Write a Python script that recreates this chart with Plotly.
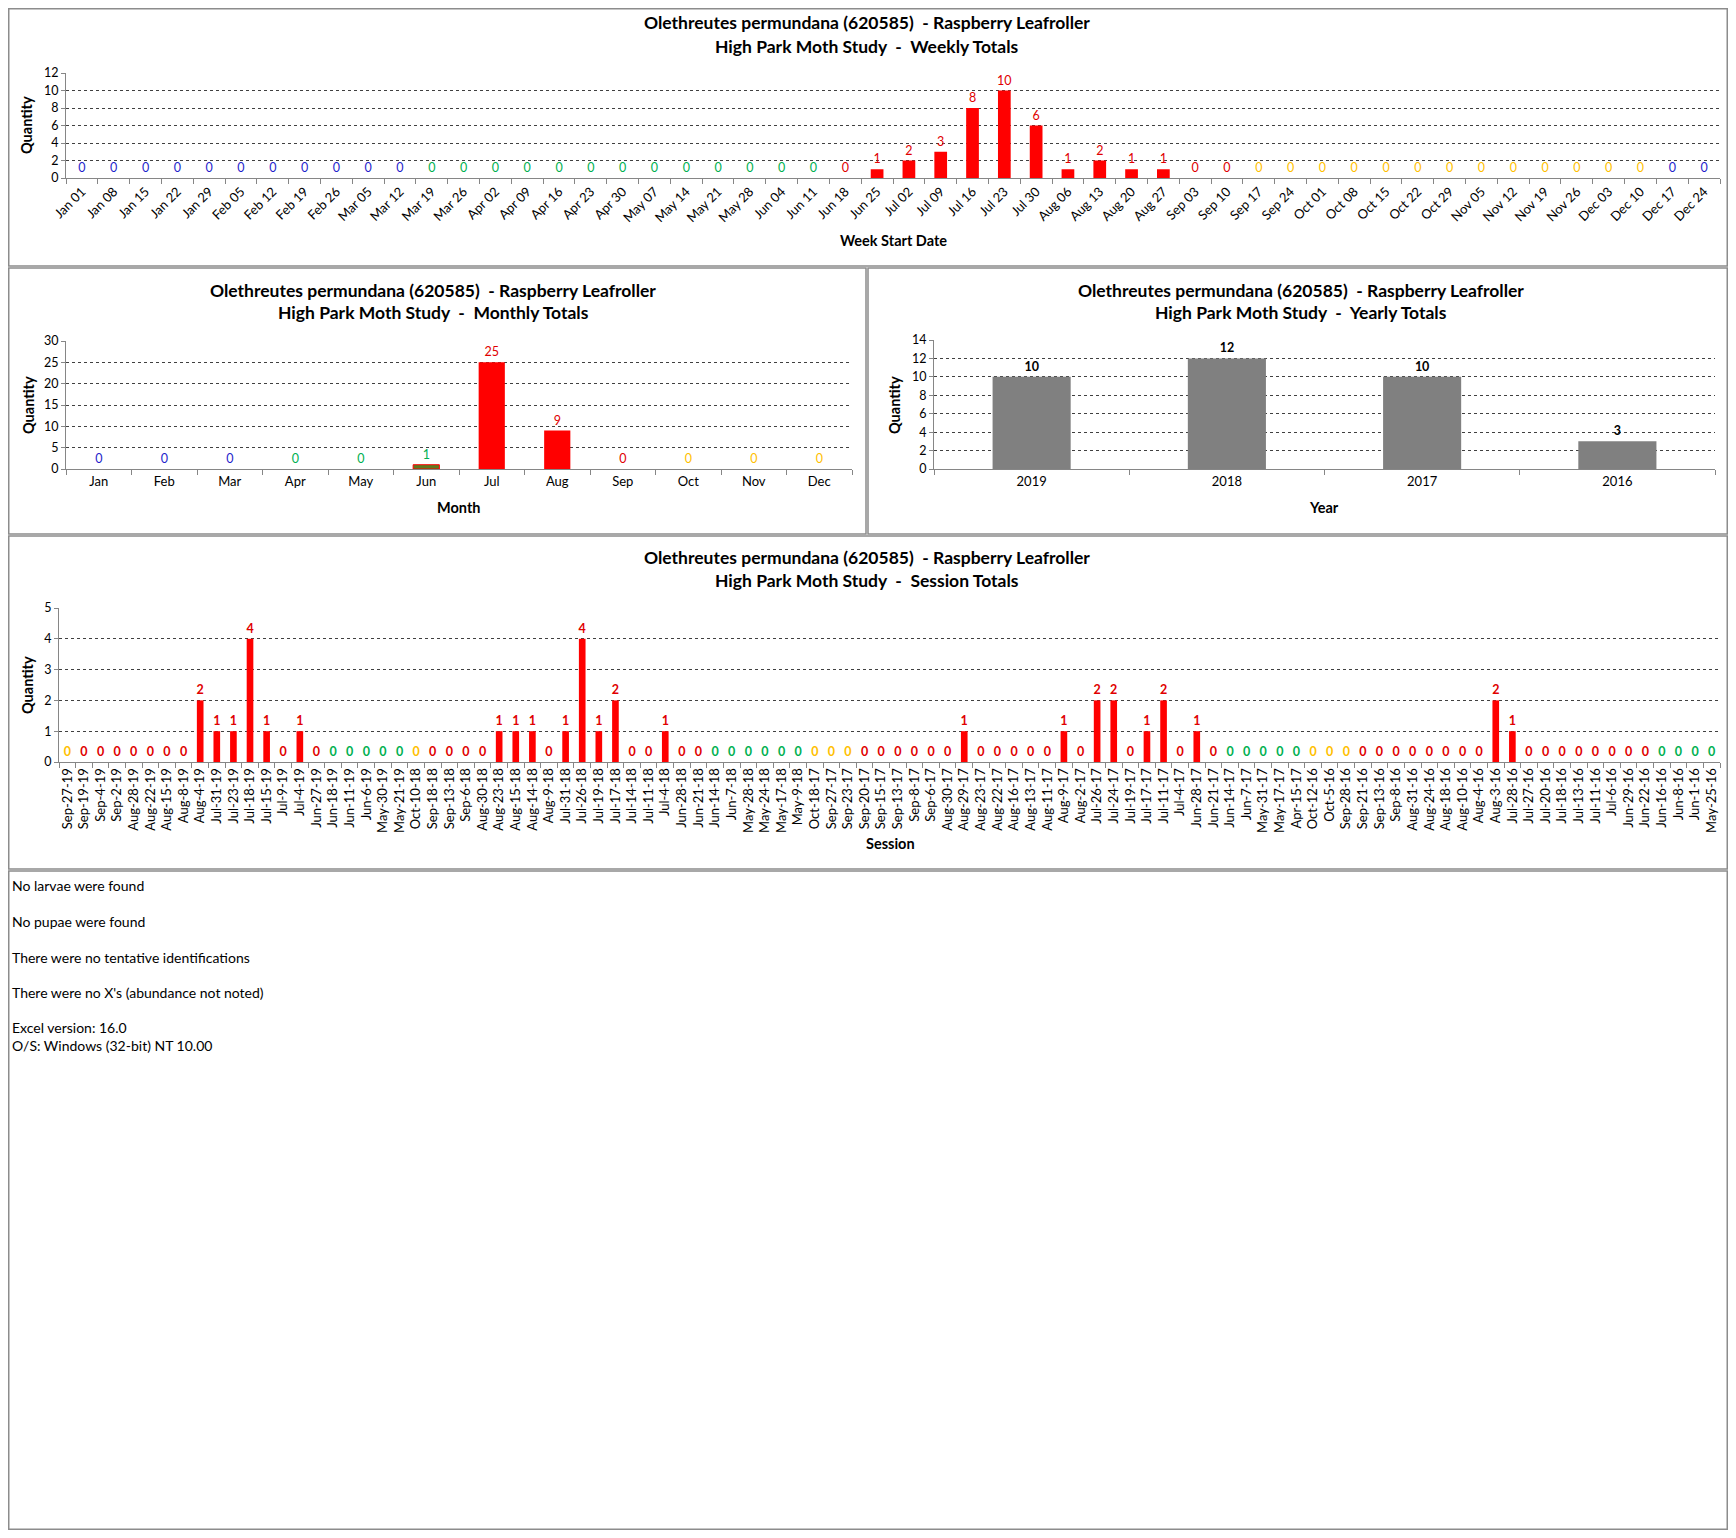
import plotly.graph_objects as go

# page is 1736x1538; the browser body keeps its default 8px margin,
# so the figure is 1720x1522 and every reference pixel is shifted by 8.
PAGE_W, PAGE_H = 1736, 1538
OFF = 8
W, H = PAGE_W - 2 * OFF, PAGE_H - 2 * OFF

TITLE_LINE1 = "Olethreutes permundana (620585)\u00a0 - Raspberry Leafroller"
STUDY = "High Park Moth Study\u00a0 -\u00a0 "

# ---------------- Weekly totals ----------------
week_labels = ["Jan 01", "Jan 08", "Jan 15", "Jan 22", "Jan 29", "Feb 05", "Feb 12", "Feb 19", "Feb 26",
               "Mar 05", "Mar 12", "Mar 19", "Mar 26", "Apr 02", "Apr 09", "Apr 16", "Apr 23", "Apr 30",
               "May 07", "May 14", "May 21", "May 28", "Jun 04", "Jun 11", "Jun 18", "Jun 25", "Jul 02",
               "Jul 09", "Jul 16", "Jul 23", "Jul 30", "Aug 06", "Aug 13", "Aug 20", "Aug 27", "Sep 03",
               "Sep 10", "Sep 17", "Sep 24", "Oct 01", "Oct 08", "Oct 15", "Oct 22", "Oct 29", "Nov 05",
               "Nov 12", "Nov 19", "Nov 26", "Dec 03", "Dec 10", "Dec 17", "Dec 24"]
week_values = [0] * 25 + [1, 2, 3, 8, 10, 6, 1, 2, 1, 1] + [0] * 17
week_label_colors = ["b"] * 11 + ["g"] * 13 + ["r"] * 13 + ["y"] * 13 + ["b"] * 2

# ---------------- Monthly totals ----------------
month_labels = ["Jan", "Feb", "Mar", "Apr", "May", "Jun", "Jul", "Aug", "Sep", "Oct", "Nov", "Dec"]
month_values = [0, 0, 0, 0, 0, 1, 25, 9, 0, 0, 0, 0]
month_label_colors = ["b", "b", "b", "g", "g", "g", "r", "r", "r", "y", "y", "y"]

# ---------------- Yearly totals ----------------
year_labels = ["2019", "2018", "2017", "2016"]
year_values = [10, 12, 10, 3]

# ---------------- Session totals ----------------
session_labels = [
    "Sep-27-19", "Sep-19-19", "Sep-4-19", "Sep-2-19", "Aug-28-19", "Aug-22-19", "Aug-15-19", "Aug-8-19",
    "Aug-4-19", "Jul-31-19", "Jul-23-19", "Jul-18-19", "Jul-15-19", "Jul-9-19", "Jul-4-19", "Jun-27-19",
    "Jun-18-19", "Jun-11-19", "Jun-6-19", "May-30-19", "May-21-19",
    "Oct-10-18", "Sep-18-18", "Sep-13-18", "Sep-6-18", "Aug-30-18", "Aug-23-18", "Aug-15-18", "Aug-14-18",
    "Aug-9-18", "Jul-31-18", "Jul-26-18", "Jul-19-18", "Jul-17-18", "Jul-14-18", "Jul-11-18", "Jul-4-18",
    "Jun-28-18", "Jun-21-18", "Jun-14-18", "Jun-7-18", "May-28-18", "May-24-18", "May-17-18", "May-9-18",
    "Oct-18-17", "Sep-27-17", "Sep-23-17", "Sep-20-17", "Sep-15-17", "Sep-13-17", "Sep-8-17", "Sep-6-17",
    "Aug-30-17", "Aug-29-17", "Aug-23-17", "Aug-22-17", "Aug-16-17", "Aug-13-17", "Aug-11-17", "Aug-9-17",
    "Aug-2-17", "Jul-26-17", "Jul-24-17", "Jul-19-17", "Jul-17-17", "Jul-11-17", "Jul-4-17", "Jun-28-17",
    "Jun-21-17", "Jun-14-17", "Jun-7-17", "May-31-17", "May-17-17", "Apr-15-17",
    "Oct-12-16", "Oct-5-16", "Sep-28-16", "Sep-21-16", "Sep-13-16", "Sep-8-16", "Aug-31-16", "Aug-24-16",
    "Aug-18-16", "Aug-10-16", "Aug-4-16", "Aug-3-16", "Jul-28-16", "Jul-27-16", "Jul-20-16", "Jul-18-16",
    "Jul-13-16", "Jul-11-16", "Jul-6-16", "Jun-29-16", "Jun-22-16", "Jun-16-16", "Jun-8-16", "Jun-1-16",
    "May-25-16"]
session_values = (
    [0, 0, 0, 0, 0, 0, 0, 0, 2, 1, 1, 4, 1, 0, 1, 0, 0, 0, 0, 0, 0] +
    [0, 0, 0, 0, 0, 1, 1, 1, 0, 1, 4, 1, 2, 0, 0, 1, 0, 0, 0, 0, 0, 0, 0, 0] +
    [0, 0, 0, 0, 0, 0, 0, 0, 0, 1, 0, 0, 0, 0, 0, 1, 0, 2, 2, 0, 1, 2, 0, 1, 0, 0, 0, 0, 0, 0] +
    [0, 0, 0, 0, 0, 0, 0, 0, 0, 0, 0, 2, 1, 0, 0, 0, 0, 0, 0, 0, 0, 0, 0, 0, 0])
session_label_colors = (
    ["y"] + ["r"] * 15 + ["g"] * 5 +
    ["y"] + ["r"] * 17 + ["g"] * 6 +
    ["y"] * 3 + ["r"] * 22 + ["g"] * 5 +
    ["y"] * 3 + ["r"] * 18 + ["g"] * 4)

notes = ["No larvae were found", "No pupae were found", "There were no tentative identifications",
         "There were no X's (abundance not noted)", "Excel version: 16.0", "O/S: Windows (32-bit) NT 10.00"]
note_rows = [885, 921, 957, 992, 1027, 1045]

PALETTE = {"b": "#1F1FCC", "g": "#00B050", "y": "#FFC000", "r": "#E00000"}
FONT = "Lato, 'Liberation Sans', sans-serif"
BAR_RED = "#FF0000"
AXIS_GRAY = "#868686"
GRID = "#404040"
CLEAR = "rgba(0,0,0,0)"


def fx(px):
    return (px - OFF) / W


def fy(py):
    return 1 - (py - OFF) / H


def clampx(px):
    return min(max(px, OFF + 0.75), OFF + W - 0.75)


def clampy(py):
    return min(max(py, OFF + 0.75), OFF + H - 0.75)


fig = go.Figure()


def add_bars(x, y, xa, ya, bar_colors, text_colors, bold, line_colors=None):
    fmt = "<b>%{text}</b>" if bold else "%{text}"
    fig.add_trace(go.Bar(
        x=x, y=y, xaxis=xa, yaxis=ya,
        marker=dict(color=bar_colors,
                    line=dict(color=line_colors if line_colors else bar_colors, width=1 if line_colors else 0)),
        text=[str(v) for v in y], texttemplate=fmt, textposition="outside", textangle=0,
        constraintext="none", cliponaxis=False,
        textfont=dict(color=text_colors, size=12.5, family=FONT),
        hoverinfo="x+y", showlegend=False))


# weekly
add_bars(week_labels, week_values, "x", "y", [BAR_RED] * len(week_values),
         [PALETTE[c] for c in week_label_colors], False)
# monthly
month_bar_colors = ["#5E7A1E" if m == "Jun" else BAR_RED for m in month_labels]
month_line_colors = [BAR_RED if (m == "Jun") else CLEAR for m in month_labels]
add_bars(month_labels, month_values, "x2", "y2", month_bar_colors,
         [PALETTE[c] for c in month_label_colors], False, month_line_colors)
# yearly
add_bars(year_labels, year_values, "x3", "y3", ["#808080"] * len(year_values),
         ["#000000"] * len(year_values), True)
# session
add_bars(session_labels, session_values, "x4", "y4", [BAR_RED] * len(session_values),
         [PALETTE[c] for c in session_label_colors], True)


def xaxis_cfg(dom, n, anchor, angle, size=13):
    return dict(domain=[fx(dom[0]), fx(dom[1])], anchor=anchor, type="category",
                range=[-0.5, n - 0.5], tickmode="linear", tick0=0, dtick=1,
                tickson="boundaries", ticks="outside", ticklen=5, tickcolor=AXIS_GRAY,
                showline=True, linecolor=AXIS_GRAY, linewidth=1, showgrid=False,
                tickangle=angle, tickfont=dict(size=size, family=FONT, color="#000"),
                fixedrange=True, zeroline=False, automargin=False)


def yaxis_cfg(dom, rng, dt, anchor):
    return dict(domain=[fy(dom[1]), fy(dom[0])], anchor=anchor, range=rng, dtick=dt,
                showline=True, linecolor=AXIS_GRAY, linewidth=1, ticks="outside", ticklen=4,
                tickcolor=AXIS_GRAY, showgrid=True, gridcolor=GRID, griddash="dot", gridwidth=1,
                zeroline=False, tickfont=dict(size=12.5, family=FONT, color="#000"), fixedrange=True,
                automargin=False)


fig.update_layout(
    template="none",
    width=W, height=H, autosize=False,
    margin=dict(l=0, r=0, t=0, b=0, pad=0),
    paper_bgcolor="white", plot_bgcolor="white",
    bargap=0.6, font=dict(family=FONT, color="#000"), showlegend=False,
    xaxis=xaxis_cfg((66, 1720), len(week_labels), "y", -45),
    yaxis=yaxis_cfg((73, 178), [0, 12], 2, "x"),
    xaxis2=xaxis_cfg((66, 852), len(month_labels), "y2", 0),
    yaxis2=yaxis_cfg((341, 469), [0, 30], 5, "x2"),
    xaxis3=xaxis_cfg((934, 1715), len(year_labels), "y3", 0),
    yaxis3=yaxis_cfg((340, 469), [0, 14], 2, "x3"),
    xaxis4=xaxis_cfg((59, 1720), len(session_labels), "y4", -90),
    yaxis4=yaxis_cfg((608, 762), [0, 5], 1, "x4"),
)

# panel borders
panels = [(1, 1, 1734, 266), (1, 268, 866, 534), (868, 268, 1734, 534), (1, 536, 1734, 869), (1, 871, 1735, 1536)]
for x0, y0, x1, y1 in panels:
    fig.add_shape(type="rect", xref="paper", yref="paper",
                  x0=fx(clampx(x0)), x1=fx(clampx(x1)), y0=fy(clampy(y0)), y1=fy(clampy(y1)),
                  line=dict(color="#8C8C8C", width=1.5), fillcolor=CLEAR, layer="below")

ann = []


def text(px, py, s, size, bold=False, angle=0, xanchor="center", color="#000"):
    ann.append(dict(xref="paper", yref="paper", x=fx(px), y=fy(py), text=("<b>%s</b>" % s) if bold else s,
                    showarrow=False, xanchor=xanchor, yanchor="middle", textangle=angle,
                    font=dict(size=size, family=FONT, color=color)))


# chart titles
for cx, ty, kind in [(867, 23, "Weekly Totals"), (433, 290, "Monthly Totals"),
                     (1301, 290, "Yearly Totals"), (867, 557, "Session Totals")]:
    text(cx, ty, TITLE_LINE1, 17.5, True)
    text(cx, ty + 23, STUDY + kind, 17.5, True)

# axis titles
text(893, 240, "Week Start Date", 14.5, True)
text(459, 508, "Month", 14.5, True)
text(1324, 508, "Year", 14.5, True)
text(890, 843, "Session", 14.5, True)
text(27, 125, "Quantity", 14.5, True, -90)
text(28, 405, "Quantity", 14.5, True, -90)
text(894, 405, "Quantity", 14.5, True, -90)
text(27, 685, "Quantity", 14.5, True, -90)

for s, ry in zip(notes, note_rows):
    text(10, ry, s, 14, False, 0, "left")

fig.update_layout(annotations=ann)

fig.write_html("out.html", config={"displayModeBar": False})
